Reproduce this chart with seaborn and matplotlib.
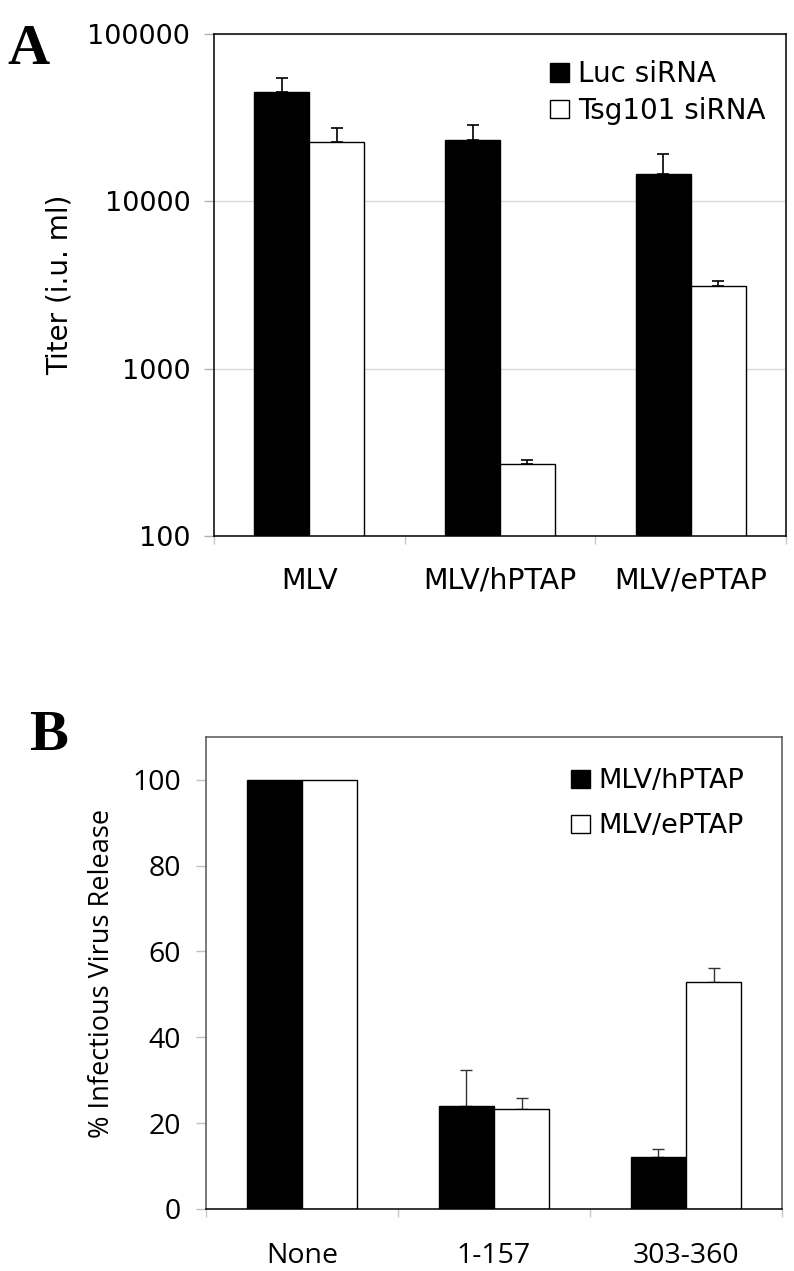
import pandas as pd
import seaborn as sns
import matplotlib.pyplot as plt
from matplotlib.patches import Patch

# Panel A data (titer, i.u./ml)
viruses = ['MLV', 'MLV/hPTAP', 'MLV/ePTAP']
sirnas = ['Luc siRNA', 'Tsg101 siRNA']
luc_titer = [44900, 23200, 14600]
tsg_titer = [22500, 268, 3130]
luc_err = [9900, 5500, 4600]
tsg_err = [4900, 15, 210]

# Panel B data (% infectious virus release)
mutants = ['None', '1-157', '303-360']
viruses_b = ['MLV/hPTAP', 'MLV/ePTAP']
hptap_pct = [100, 24.1, 12.2]
eptap_pct = [100, 23.4, 52.9]
hptap_err = [0, 8.2, 1.7]
eptap_err = [0, 2.5, 3.2]

df_a = pd.DataFrame({
    'virus': viruses * 2,
    'siRNA': [sirnas[0]] * 3 + [sirnas[1]] * 3,
    'titer': luc_titer + tsg_titer,
})
df_b = pd.DataFrame({
    'mutant': mutants * 2,
    'virus': [viruses_b[0]] * 3 + [viruses_b[1]] * 3,
    'pct': hptap_pct + eptap_pct,
})

sns.set_style('white')
plt.rcParams['font.family'] = ['DejaVu Sans']
plt.rcParams['text.color'] = 'black'
plt.rcParams['axes.labelcolor'] = 'black'

fig = plt.figure(figsize=(7.94, 12.71), dpi=100)
ax_a = fig.add_axes([0.2695, 0.5783, 0.7204, 0.3950])
ax_b = fig.add_axes([0.2594, 0.0488, 0.7255, 0.3714])

bar_w = 110 / 191


def draw_errors(ax, errs, color, lw):
    for cont, err in zip(ax.containers, errs):
        xs = [p.get_x() + p.get_width() / 2 for p in cont]
        ys = list(cont.datavalues)
        for x, y, e in zip(xs, ys, err):
            if e <= 0:
                continue
            ax.errorbar(x, y, yerr=[[0], [e]], fmt='none', ecolor=color,
                        elinewidth=lw, capsize=4.5, capthick=lw, zorder=1)


def style_cat_axis(ax, labels, pad, font, fs):
    ax.set_xlim(-0.5, len(labels) - 0.5)
    ax.set_xticks(range(len(labels)))
    ax.set_xticklabels(labels, fontsize=fs, family=font)
    ax.set_xticks([i - 0.5 for i in range(len(labels) + 1)], minor=True)
    ax.tick_params(axis='x', which='major', length=0, pad=pad,
                   labelcolor='black')
    ax.tick_params(axis='x', which='minor', length=6, width=1,
                   color='#c8c8c8', bottom=True)
    ax.set_xlabel('')


# ---- Panel A ----
sns.barplot(data=df_a, x='virus', y='titer', hue='siRNA', ax=ax_a,
            palette=['black', 'white'], edgecolor='black', linewidth=1,
            width=bar_w, gap=0, errorbar=None, legend=False, zorder=2)
ax_a.set_yscale('log')
ax_a.set_ylim(100, 100000)
ax_a.set_yticks([100, 1000, 10000, 100000])
ax_a.set_yticklabels(['100', '1000', '10000', '100000'], fontsize=19.5)
ax_a.minorticks_off()
draw_errors(ax_a, [luc_err, tsg_err], 'black', 1.2)
style_cat_axis(ax_a, viruses, 22, 'DejaVu Sans', 20.5)
ax_a.tick_params(axis='y', which='major', left=True, length=7, width=1,
                 color='#b0b0b0', pad=10, labelcolor='black')
ax_a.yaxis.grid(True, color='#dadada', linewidth=1)
ax_a.set_axisbelow(True)
ax_a.set_ylabel('Titer (i.u. ml)', fontsize=20, labelpad=10)
for s in ax_a.spines.values():
    s.set_color('black')
    s.set_linewidth(1.1)
ax_a.legend(handles=[Patch(facecolor='black', edgecolor='black', label=sirnas[0]),
                     Patch(facecolor='white', edgecolor='black', label=sirnas[1])],
            loc='upper right', bbox_to_anchor=(0.988, 0.975), frameon=False,
            fontsize=20, handlelength=0.7, handleheight=0.65,
            handletextpad=0.3, labelspacing=0.3, borderpad=0)

# ---- Panel B ----
sns.barplot(data=df_b, x='mutant', y='pct', hue='virus', ax=ax_b,
            palette=['black', 'white'], edgecolor='black', linewidth=1,
            width=bar_w, gap=0, errorbar=None, legend=False, zorder=2)
ax_b.set_ylim(0, 110)
ax_b.set_yticks([0, 20, 40, 60, 80, 100])
ax_b.set_yticklabels(['0', '20', '40', '60', '80', '100'], fontsize=20.5,
                     family='Open Sans')
draw_errors(ax_b, [hptap_err, eptap_err], '#333333', 1.0)
style_cat_axis(ax_b, mutants, 24, 'Open Sans', 20.5)
ax_b.tick_params(axis='y', which='major', left=True, length=7, width=1,
                 color='#c0c0c0', pad=11, labelcolor='black')
ax_b.set_ylabel('% Infectious Virus Release', fontsize=19.5, family='Open Sans',
                labelpad=12)
for s in ax_b.spines.values():
    s.set_color('#555555')
    s.set_linewidth(1.1)
ax_b.spines['bottom'].set_color('black')
ax_b.legend(handles=[Patch(facecolor='black', edgecolor='black', label=viruses_b[0]),
                     Patch(facecolor='white', edgecolor='black', label=viruses_b[1])],
            loc='upper right', bbox_to_anchor=(0.958, 0.962), frameon=False,
            fontsize=19.5, handlelength=0.7, handleheight=0.65,
            handletextpad=0.3, labelspacing=0.7, borderpad=0)

# Panel letters
fig.text(0.009, 0.961, 'A', fontsize=42, fontweight='bold',
         family='Liberation Serif', va='center', ha='left')
fig.text(0.036, 0.421, 'B', fontsize=42, fontweight='bold',
         family='Liberation Serif', va='center', ha='left')

fig.savefig('out.png', dpi=100)
